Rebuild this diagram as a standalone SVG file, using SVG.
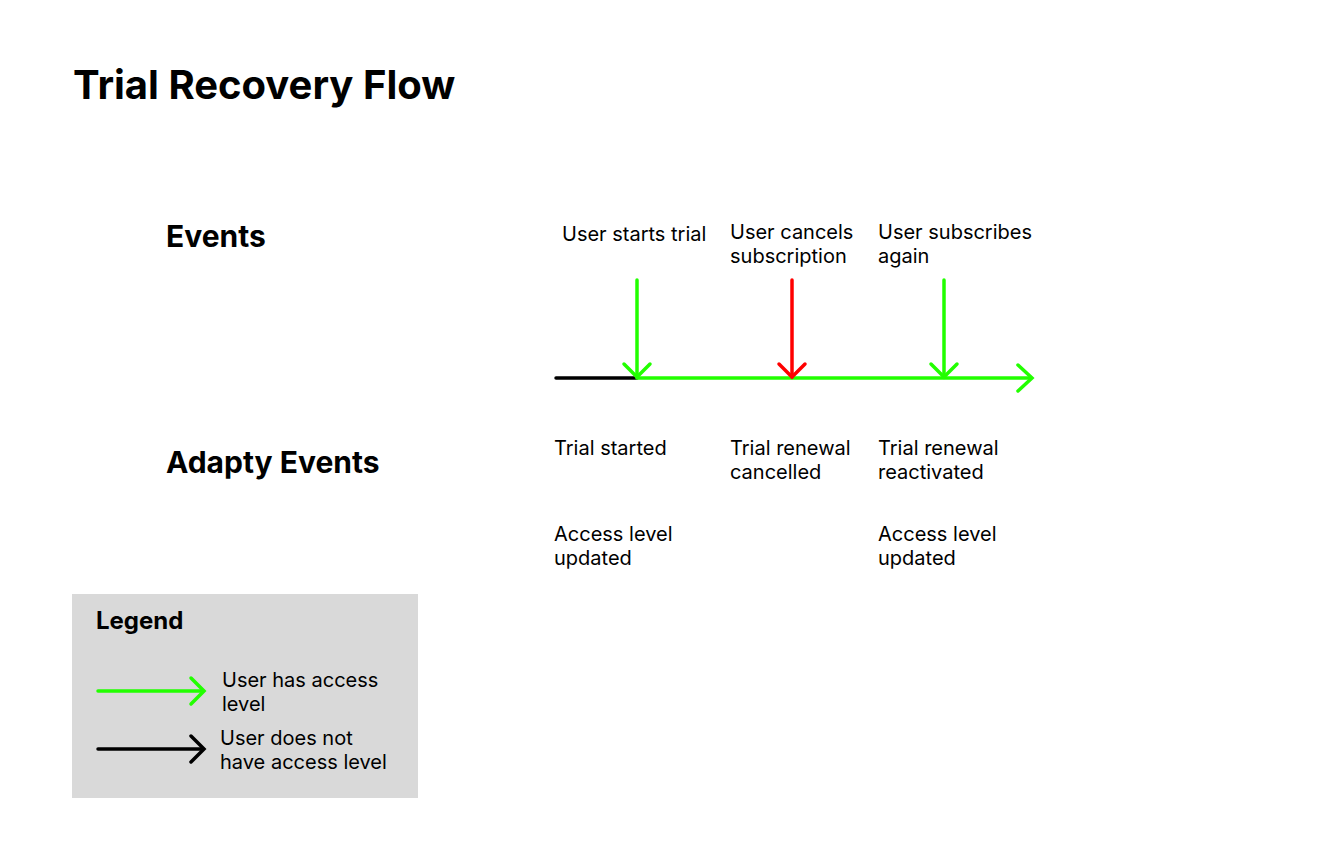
<svg xmlns="http://www.w3.org/2000/svg" width="1326" height="852" viewBox="0 0 1326 852">
<style>
text{font-family:Inter,"Noto Sans","Liberation Sans",sans-serif;fill:#000}
.t{font-size:40px;font-weight:700}
.h{font-size:30px;font-weight:700}
.lg{font-size:24px;font-weight:700}
.l{font-size:20px}
.g{stroke:#22ff00;stroke-width:3.5;fill:none;stroke-linecap:round}
.r{stroke:#ff0000;stroke-width:3.5;fill:none;stroke-linecap:round}
.k{stroke:#000;stroke-width:3.5;fill:none;stroke-linecap:round}
</style>
<rect width="1326" height="852" fill="#fff"/>
<text class="t" x="73" y="99">Trial Recovery Flow</text>
<g id="labels">
<text class="h" x="166" y="247">Events</text>
<text class="h" x="166" y="473">Adapty Events</text>
</g>
<g id="event1"><text class="l" x="562" y="241">User starts trial</text></g>
<g id="event2"><text class="l" x="730" y="239">User cancels</text><text class="l" x="730" y="263">subscription</text></g>
<g id="event3"><text class="l" x="878" y="239">User subscribes</text><text class="l" x="878" y="263">again</text></g>
<g id="adapty1"><text class="l" x="554" y="455">Trial started</text><text class="l" x="554" y="541">Access level</text><text class="l" x="554" y="565">updated</text></g>
<g id="adapty2"><text class="l" x="730" y="455">Trial renewal</text><text class="l" x="730" y="479">cancelled</text></g>
<g id="adapty3"><text class="l" x="878" y="455">Trial renewal</text><text class="l" x="878" y="479">reactivated</text><text class="l" x="878" y="541">Access level</text><text class="l" x="878" y="565">updated</text></g>
<g id="connectors">
<line class="k" x1="556" y1="378" x2="637" y2="378" stroke-linecap="butt"/>
<line class="g" x1="637" y1="378" x2="1031" y2="378"/>
<polyline class="g" points="1018,365 1032,378 1018,391"/>
<line class="g" x1="637" y1="280" x2="637" y2="377"/>
<polyline class="g" points="624,364 637,377 650,364"/>
<line class="r" x1="792" y1="280" x2="792" y2="377"/>
<polyline class="r" points="779,364 792,377 805,364"/>
<line class="g" x1="944" y1="280" x2="944" y2="377"/>
<polyline class="g" points="931,364 944,377 957,364"/>
</g>
<g id="legend">
<rect x="72" y="594" width="346" height="204" fill="#d9d9d9"/>
<text class="lg" x="96" y="629">Legend</text>
<line class="g" x1="98" y1="691" x2="203" y2="691" stroke-linecap="butt"/>
<polyline class="g" points="191,678 204,691 191,704"/>
<text class="l" x="222" y="687">User has access</text>
<text class="l" x="222" y="711">level</text>
<line class="k" x1="98" y1="749" x2="203" y2="749" stroke-linecap="butt"/>
<polyline class="k" points="191,736 204,749 191,762"/>
<text class="l" x="220" y="745">User does not</text>
<text class="l" x="220" y="769">have access level</text>
</g>
</svg>
